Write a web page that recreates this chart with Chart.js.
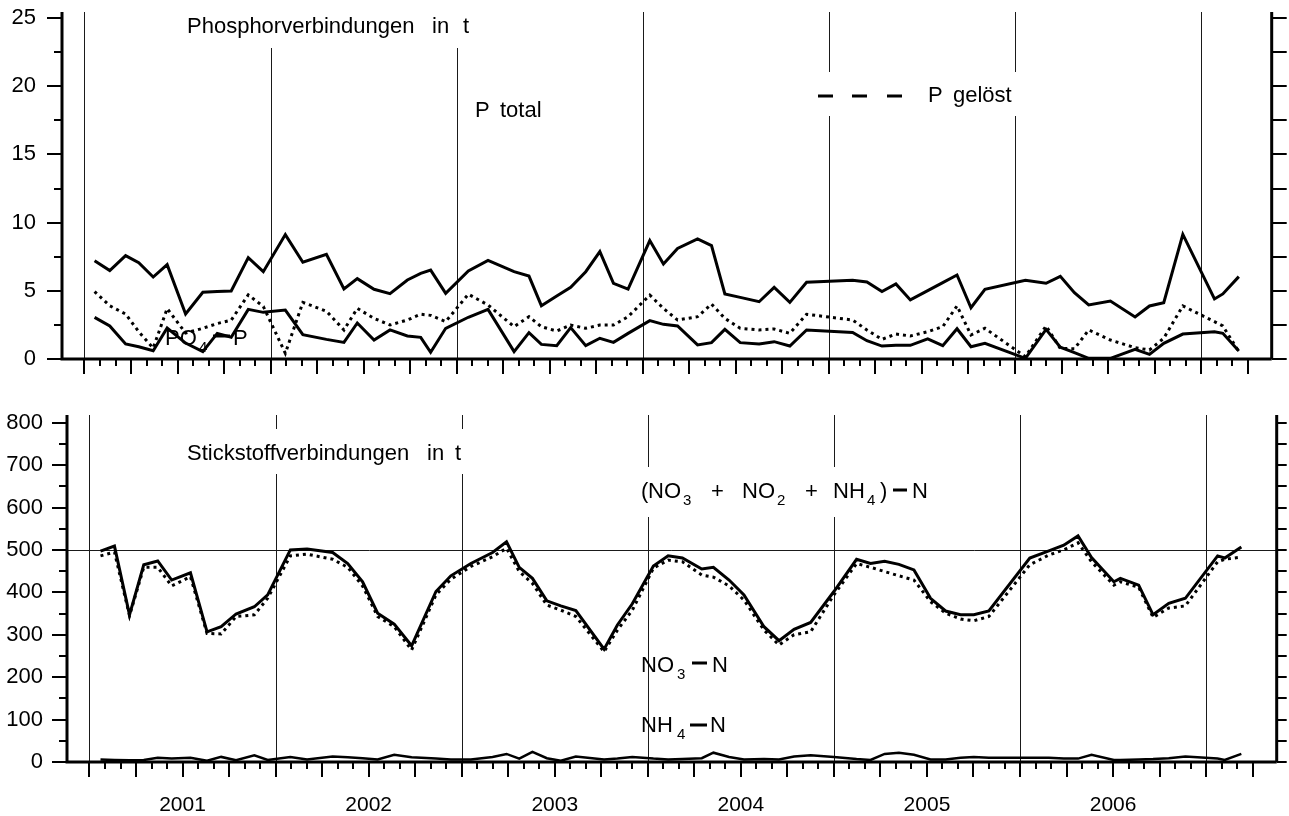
<!DOCTYPE html>
<html>
<head>
<meta charset="utf-8">
<script src="https://cdn.jsdelivr.net/npm/chart.js@4"></script>
<style>
  body { margin: 0; background: #fff; overflow: hidden; }
  #pChart { position: absolute; left: 0; top: -40px; }
  #nChart { position: absolute; left: 0; top: 380px; }
</style>
</head>
<body>
<canvas id="pChart" width="1289" height="460"></canvas>
<canvas id="nChart" width="1289" height="436"></canvas>
<script>
// Zeit in Monaten ab Januar 2001
const yearLabels = ['2001', '2002', '2003', '2004', '2005', '2006'];
const yearLines = [0, 12, 24, 36, 48, 60, 72];

// Phosphorverbindungen in t
const pTime = [0.65, 1.63, 2.65, 3.5, 4.43, 5.33, 6.52, 7.63, 8.56, 9.46, 10.56, 11.53, 12.95, 14.08, 15.6, 16.73,
  17.59, 18.67, 19.7, 20.82, 21.68, 22.32, 23.29, 24.75, 26.02, 27.7, 28.66, 29.46, 30.45, 31.35, 32.32, 33.23,
  34.11, 35.05, 36.45, 37.33, 38.24, 39.53, 40.43, 41.29, 42.28, 43.5, 44.47, 45.48, 46.56, 49.53, 50.45, 51.42,
  52.32, 53.25, 54.37, 55.34, 56.26, 57.16, 58.06, 60.67, 62.0, 62.92, 63.83, 64.75, 66.15, 67.74, 68.67, 69.59,
  70.82, 72.86, 73.4, 74.43];
const pTotal = [7.21, 6.48, 7.58, 7.06, 6.01, 6.92, 3.30, 4.89, 4.94, 4.99, 7.43, 6.40, 9.12, 7.09, 7.68, 5.13,
  5.89, 5.11, 4.79, 5.79, 6.28, 6.52, 4.81, 6.45, 7.23, 6.40, 6.08, 3.91, 4.62, 5.25, 6.40, 7.87,
  5.55, 5.13, 8.68, 6.96, 8.11, 8.80, 8.31, 4.77, 4.52, 4.20, 5.25, 4.15, 5.62, 5.77, 5.65, 4.94,
  5.50, 4.33, 5.01, 5.60, 6.16, 3.76, 5.11, 5.77, 5.55, 6.06, 4.86, 3.96, 4.25, 3.08, 3.89, 4.13,
  9.14, 4.40, 4.77, 6.04];
const pGeloest = [4.94, 3.9, 3.3, 2.0, 0.8, 3.7, 1.9, 2.25, 2.6, 2.85, 4.7, 3.85, 0.42, 4.15, 3.5, 2.13,
  3.71, 2.98, 2.49, 2.86, 3.28, 3.2, 2.74, 4.75, 3.96, 2.37, 3.10, 2.37, 2.05, 2.49, 2.25, 2.49,
  2.49, 3.10, 4.69, 3.71, 2.86, 3.10, 4.03, 2.98, 2.25, 2.13, 2.2, 1.88, 3.28, 2.86, 2.13, 1.44,
  1.83, 1.69, 2.0, 2.37, 3.89, 1.76, 2.25, 0.17, 2.42, 0.78, 0.75, 2.13, 1.39, 0.83, 0.66, 1.52,
  3.89, 2.74, 2.42, 0.54];
const po4P = [3.05, 2.42, 1.10, 0.90, 0.61, 2.27, 1.17, 0.54, 1.88, 1.59, 3.64, 3.42, 3.59, 1.78, 1.44, 1.22,
  2.64, 1.39, 2.13, 1.69, 1.59, 0.49, 2.25, 3.06, 3.64, 0.54, 1.93, 1.07, 0.98, 2.30, 0.98, 1.52,
  1.22, 1.88, 2.81, 2.54, 2.42, 1.03, 1.20, 2.17, 1.20, 1.10, 1.27, 0.95, 2.13, 1.95, 1.34, 0.95,
  1.0, 1.0, 1.47, 0.98, 2.22, 0.90, 1.15, 0.05, 2.17, 0.86, 0.47, 0.05, 0.05, 0.71, 0.34, 1.15,
  1.83, 2.0, 1.88, 0.59];
const pTicks = { max: 25, step: 5, minor: 2.5 };

// Stickstoffverbindungen in t
const nTime = [0.71, 1.61, 2.58, 3.5, 4.4, 5.3, 6.51, 7.58, 8.49, 9.45, 10.63, 11.49, 12.95, 14.03, 15.68, 16.65,
  17.61, 18.58, 19.65, 20.77, 22.34, 23.3, 24.59, 25.99, 26.89, 27.71, 28.56, 29.49, 30.39, 31.36, 33.18, 34.04,
  35.0, 36.36, 37.31, 38.23, 39.48, 40.23, 41.24, 42.2, 43.49, 44.46, 45.43, 46.5, 48.0, 49.46, 50.36, 51.27,
  52.19, 53.16, 54.23, 55.2, 56.17, 57.02, 57.99, 60.63, 61.86, 62.82, 63.74, 64.61, 66.05, 66.47, 67.65, 68.58,
  69.59, 70.66, 72.74, 73.2, 74.27];
const nSumme = [497, 509, 347, 465, 474, 429, 446, 307, 319, 349, 366, 394, 500, 502, 494, 468,
  425, 351, 325, 274, 402, 439, 468, 494, 519, 459, 433, 380, 368, 357, 266, 323,
  373, 462, 486, 481, 455, 459, 429, 394, 319, 286, 313, 329, 402, 478, 468, 473,
  466, 453, 386, 356, 347, 347, 356, 481, 498, 511, 533, 482, 425, 433, 417, 347,
  374, 386, 486, 481, 507];
const no3N = [486, 495, 345, 459, 459, 415, 437, 303, 302, 343, 347, 386, 486, 490, 478, 459,
  415, 343, 319, 264, 394, 431, 461, 484, 504, 449, 421, 370, 358, 343, 260, 311,
  358, 457, 476, 472, 441, 436, 415, 382, 311, 276, 300, 307, 394, 468, 459, 449,
  439, 429, 378, 351, 337, 333, 343, 465, 488, 500, 517, 472, 417, 425, 412, 341,
  363, 368, 472, 478, 483];
const nh4N = [6, 5, 4, 5, 10, 8, 10, 3, 12, 4, 16, 5, 12, 6, 13, 11,
  9, 6, 17, 11, 8, 6, 6, 12, 19, 8, 24, 9, 3, 13, 6, 8,
  12, 8, 6, 7, 9, 22, 12, 6, 7, 6, 13, 16, 12, 7, 5, 19,
  22, 17, 6, 6, 10, 12, 10, 10, 10, 8, 8, 17, 5, 5, 6, 7,
  9, 13, 8, 5, 19];
const nTicks = { max: 800, step: 100, minor: 50 };

const FONT = "'Liberation Sans', Arial, sans-serif";
Chart.defaults.font.family = FONT;
Chart.defaults.color = '#000';

const X_MIN = -1.45, X_MAX = 76.55;

function pts(t, v) {
  return t.map((x, i) => ({ x: x, y: v[i] }));
}

function solid(data, w) {
  return { data: data, borderColor: '#000', borderWidth: w || 3, pointRadius: 0, tension: 0, fill: false };
}

function dotted(data) {
  return { data: data, borderColor: '#000', borderWidth: 3, borderDash: [3, 4], borderCapStyle: 'butt',
    pointRadius: 0, tension: 0, fill: false };
}

// Rahmen, Jahreslinien, Striche und Beschriftungen
function framePlugin(cfg) {
  return {
    id: 'frame',
    beforeDatasetsDraw(chart) {
      const ctx = chart.ctx, a = chart.chartArea, x = chart.scales.x, y = chart.scales.y;
      const top = a.top - cfg.overTop;
      ctx.save();
      ctx.strokeStyle = '#1a1a1a';
      ctx.lineWidth = 1;
      ctx.beginPath();
      yearLines.forEach(m => {
        const px = Math.round(x.getPixelForValue(m)) + 0.5;
        ctx.moveTo(px, top);
        ctx.lineTo(px, a.bottom);
      });
      if (cfg.refLine !== undefined) {
        const py = Math.round(y.getPixelForValue(cfg.refLine)) + 0.5;
        ctx.moveTo(a.left, py);
        ctx.lineTo(a.right, py);
      }
      ctx.stroke();

      ctx.fillStyle = '#fff';
      cfg.boxes.forEach(b => ctx.fillRect(b[0], b[1] - cfg.offset, b[2], b[3]));

      ctx.fillStyle = '#000';
      ctx.textBaseline = 'alphabetic';
      ctx.textAlign = 'left';
      cfg.labels.forEach(l => {
        ctx.font = (l.sub ? 15 : 22) + 'px ' + FONT;
        ctx.fillText(l.t, l.x, l.y - cfg.offset);
      });
      cfg.dashes.forEach(d => ctx.fillRect(d[0], d[2] - cfg.offset - 1.5, d[1] - d[0], 3));
      ctx.restore();
    },
    afterDatasetsDraw(chart) {
      const ctx = chart.ctx, a = chart.chartArea, x = chart.scales.x, y = chart.scales.y;
      const top = a.top - cfg.overTop;
      ctx.save();
      ctx.strokeStyle = '#000';

      // Monatsstriche
      ctx.lineWidth = 2;
      ctx.beginPath();
      for (let m = 0; m <= 75; m++) {
        const px = Math.round(x.getPixelForValue(m));
        ctx.moveTo(px, a.bottom);
        ctx.lineTo(px, a.bottom + (m % 3 === 0 ? 15 : 7));
      }
      // y-Striche links und rechts
      for (let v = 0; v <= cfg.ticks.max + 1e-9; v += cfg.ticks.minor) {
        const py = Math.round(y.getPixelForValue(v));
        const major = Math.abs(v / cfg.ticks.step - Math.round(v / cfg.ticks.step)) < 1e-6;
        ctx.moveTo(a.left - (major ? 15 : 8), py);
        ctx.lineTo(a.left, py);
        ctx.moveTo(a.right, py);
        ctx.lineTo(a.right + cfg.rightLen, py);
      }
      ctx.stroke();

      // Achsen
      ctx.lineWidth = 3;
      ctx.beginPath();
      ctx.moveTo(a.left, top);
      ctx.lineTo(a.left, a.bottom);
      ctx.lineTo(a.right, a.bottom);
      ctx.moveTo(a.right, top);
      ctx.lineTo(a.right, a.bottom);
      ctx.stroke();

      if (cfg.years) {
        ctx.fillStyle = '#000';
        ctx.font = '21px ' + FONT;
        ctx.textAlign = 'center';
        ctx.textBaseline = 'alphabetic';
        yearLabels.forEach((lab, k) => {
          ctx.fillText(lab, x.getPixelForValue(12 * k + 6), a.bottom + 49);
        });
      }
      ctx.restore();
    }
  };
}

function makeChart(id, cfg) {
  return new Chart(document.getElementById(id), {
    type: 'line',
    data: { datasets: cfg.datasets },
    options: {
      responsive: false,
      animation: false,
      layout: { padding: cfg.padding },
      plugins: { legend: { display: false }, tooltip: { enabled: false } },
      scales: {
        x: { type: 'linear', min: X_MIN, max: X_MAX, display: false },
        y: {
          min: 0, max: cfg.ticks.max,
          afterFit: s => { s.width = cfg.axisLeft; },
          grid: { display: false, drawTicks: false },
          border: { display: false },
          ticks: { stepSize: cfg.ticks.step, padding: cfg.labelPad, font: { size: 22 }, color: '#000' }
        }
      }
    },
    plugins: [framePlugin(cfg)]
  });
}

// oberes Diagramm: Leinwand beginnt 40 px über dem Seitenrand
makeChart('pChart', {
  datasets: [
    solid(pts(pTime, pTotal)),
    dotted(pts(pTime, pGeloest)),
    solid(pts(pTime, po4P))
  ],
  ticks: pTicks,
  axisLeft: 62,
  labelPad: 26,
  padding: { left: 0, top: 58, right: 17.3, bottom: 61 },
  overTop: 6,
  rightLen: 15,
  offset: -40,
  boxes: [[183, 8, 292, 40], [810, 72, 212, 44]],
  labels: [
    { t: 'Phosphorverbindungen', x: 187, y: 33 }, { t: 'in', x: 432, y: 33 }, { t: 't', x: 463, y: 33 },
    { t: 'P', x: 475, y: 117 }, { t: 'total', x: 500, y: 117 },
    { t: 'P', x: 928, y: 102 }, { t: 'gelöst', x: 953, y: 102 },
    { t: 'PO', x: 165, y: 345 }, { t: '4', x: 199, y: 352, sub: true }, { t: 'P', x: 233, y: 345 }
  ],
  dashes: [[818, 833, 96], [852, 867, 96], [887, 902, 96], [213, 230, 336]],
  years: false
});

makeChart('nChart', {
  datasets: [
    solid(pts(nTime, nSumme)),
    dotted(pts(nTime, no3N)),
    solid(pts(nTime, nh4N), 2.5)
  ],
  ticks: nTicks,
  axisLeft: 67,
  labelPad: 24,
  padding: { left: 0, top: 42.7, right: 12.3, bottom: 54 },
  overTop: 7.7,
  rightLen: 10,
  offset: 380,
  refLine: 500,
  boxes: [[183, 429, 290, 45], [637, 467, 296, 50]],
  labels: [
    { t: 'Stickstoffverbindungen', x: 187, y: 460 }, { t: 'in', x: 427, y: 460 }, { t: 't', x: 455, y: 460 },
    { t: '(', x: 641, y: 498 }, { t: 'NO', x: 648, y: 498 }, { t: '3', x: 683, y: 505, sub: true },
    { t: '+', x: 711, y: 498 }, { t: 'NO', x: 742, y: 498 }, { t: '2', x: 777, y: 505, sub: true },
    { t: '+', x: 805, y: 498 }, { t: 'NH', x: 833, y: 498 }, { t: '4', x: 867, y: 505, sub: true },
    { t: ')', x: 880, y: 498 }, { t: 'N', x: 912, y: 498 },
    { t: 'NO', x: 641, y: 672 }, { t: '3', x: 677, y: 679, sub: true }, { t: 'N', x: 712, y: 672 },
    { t: 'NH', x: 641, y: 732 }, { t: '4', x: 677, y: 739, sub: true }, { t: 'N', x: 710, y: 732 }
  ],
  dashes: [[893, 907, 490], [692, 707, 663], [690, 707, 725]],
  years: true
});
</script>
</body>
</html>
